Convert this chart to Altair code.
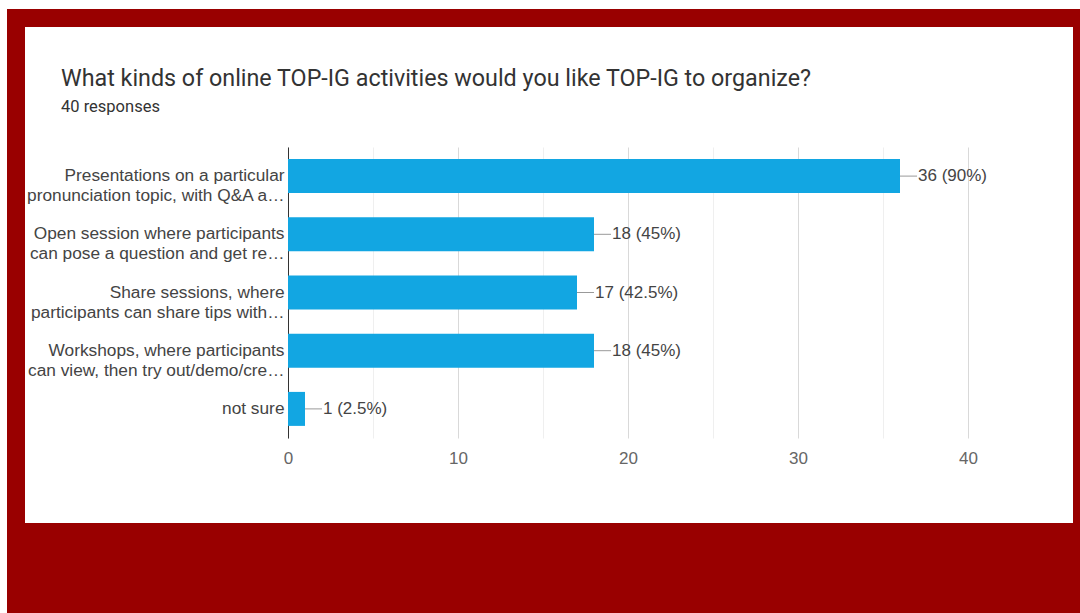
import altair as alt
import pandas as pd

categories = [
    "Presentations on a particular|pronunciation topic, with Q&A a…",
    "Open session where participants|can pose a question and get re…",
    "Share sessions, where|participants can share tips with…",
    "Workshops, where participants|can view, then try out/demo/cre…",
    "not sure",
]
counts = [36, 18, 17, 18, 1]
labels = ["36 (90%)", "18 (45%)", "17 (42.5%)", "18 (45%)", "1 (2.5%)"]
x_ticks = [0, 5, 10, 15, 20, 25, 30, 35, 40]
title_text = "What kinds of online TOP-IG activities would you like TOP-IG to organize?"
subtitle_text = "40 responses"

df = pd.DataFrame({"cat": categories, "n": counts, "lab": labels})

RED = "#990000"
BLUE = "#12a6e2"

xscale = alt.Scale(domain=[0, 40], nice=False)
yscale = alt.Scale(domain=categories, paddingInner=0.416, paddingOuter=0.208)

base = alt.Chart(df)

bars = base.mark_bar(color=BLUE).encode(
    x=alt.X("n:Q", scale=xscale,
            axis=alt.Axis(values=x_ticks, title=None, domain=False, ticks=False,
                          labelExpr="datum.value % 10 === 0 ? datum.label : ''",
                          labelFontSize=17, labelColor="#666", labelFont="Liberation Sans",
                          labelPadding=12, labelFlush=False,
                          gridColor={"condition": {"test": "datum.value % 10 === 0", "value": "#d9d9d9"}, "value": "#efefef"})),
    y=alt.Y("cat:N", scale=yscale, sort=categories,
            axis=alt.Axis(title=None, ticks=False, grid=False, domainColor="#333",
                          labelExpr="split(datum.label, '|')", labelLineHeight=20,
                          labelFontSize=17.3, labelColor="#444", labelFont="Liberation Sans",
                          labelLimit=400, labelPadding=4)),
)

conn = base.transform_calculate(n2="datum.n + 1").mark_rule(color="#999", strokeWidth=1).encode(
    x=alt.X("n:Q", scale=xscale), x2="n2:Q",
    y=alt.Y("cat:N", scale=yscale, sort=categories, bandPosition=0.5),
)

txt = base.mark_text(align="left", baseline="middle", dx=18, fontSize=17,
                     font="Liberation Sans", color="#444").encode(
    x=alt.X("n:Q", scale=xscale),
    y=alt.Y("cat:N", scale=yscale, sort=categories),
    text="lab:N",
)

one = alt.Data(values=[{}])

def frame(x1, x2, y1, y2):
    return alt.Chart(one).mark_rect(color=RED).encode(
        x=alt.value(x1), x2=alt.value(x2), y=alt.value(y1), y2=alt.value(y2))

frames = [
    frame(-281, 792, -138, -120),
    frame(-281, 792, 376, 466),
    frame(-281, -263, -138, 466),
    frame(785, 792, -138, 466),
]

title = alt.Chart(one).mark_text(align="left", baseline="alphabetic", fontSize=23.3,
                                 font="Roboto", color="#333").encode(
    x=alt.value(-227), y=alt.value(-61), text=alt.value(title_text))
subtitle = alt.Chart(one).mark_text(align="left", baseline="alphabetic", fontSize=16.5,
                                    font="Roboto", color="#333").encode(
    x=alt.value(-227), y=alt.value(-35), text=alt.value(subtitle_text))

chart = alt.layer(bars, conn, txt, *frames, title, subtitle).properties(
    width=680, height=291,
    padding={"left": 288, "top": 147, "right": 112, "bottom": 175},
    autosize=alt.AutoSizeParams(type="none"),
    background="white",
).configure_view(stroke=None)

chart.save("out.html", embed_options={"renderer": "svg", "actions": False})
